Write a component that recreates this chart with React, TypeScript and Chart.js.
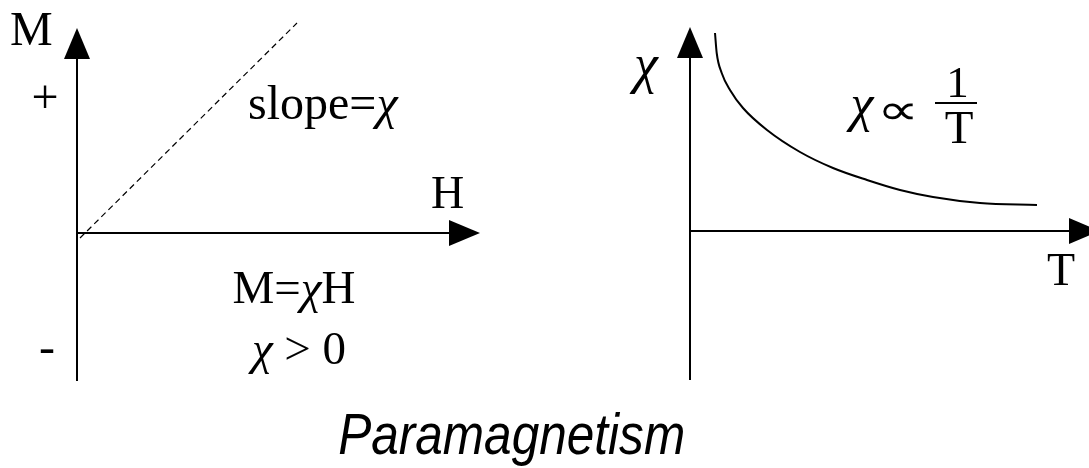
import React, { useEffect, useRef } from "react";
import { Chart, registerables } from "chart.js";

Chart.register(...registerables);

// ---- Data (left panel: M versus H) ----
const fieldH = [0.03, 2.2];
const magnetM = [-0.05, 2.1];

// ---- Data (right panel: chi versus T) ----
const tempT = [0.25, 0.267, 0.317, 0.4, 0.53, 0.77, 1.1, 1.43, 1.77, 2.1, 2.43, 2.9, 3.47];
const chiValues = [1.98, 1.78, 1.58, 1.41, 1.23, 1.01, 0.79, 0.63, 0.51, 0.41, 0.34, 0.28, 0.26];

// ---- Axis extents (data units) ----
const leftAxes = { xTo: 4.03, yFrom: -1.48, yTo: 2.05 };
const rightAxes = { xTo: 4.1, yFrom: -1.49, yTo: 2.04 };

const SERIF = '"Liberation Serif", "Times New Roman", serif';
const TITLE = "Paramagnetism";
const CHI = "\u03C7";

type Run = { t: string; it?: boolean };
type Label = { runs: Run[]; x: number; y: number; size: number; align: "left" | "center"; sx?: number };

const leftLabels: Label[] = [
  { runs: [{ t: "M" }], x: -0.67, y: 1.88, size: 48, align: "left" },
  { runs: [{ t: "+" }], x: -0.32, y: 1.2, size: 48, align: "center" },
  { runs: [{ t: "-" }], x: -0.3, y: -1.3, size: 48, align: "center" },
  { runs: [{ t: "slope=" }, { t: CHI, it: true }], x: 1.71, y: 1.14, size: 48, align: "left" },
  { runs: [{ t: "H" }], x: 3.54, y: 0.25, size: 46, align: "left" },
  { runs: [{ t: "M=" }, { t: CHI, it: true }, { t: "H" }], x: 2.17, y: -0.7, size: 47, align: "center" },
  { runs: [{ t: CHI, it: true }, { t: " > 0" }], x: 2.22, y: -1.31, size: 47, align: "center" },
];

const rightLabels: Label[] = [
  { runs: [{ t: CHI, it: true }], x: -0.44, y: 1.49, size: 54, align: "center" },
  { runs: [{ t: CHI, it: true }], x: 1.72, y: 1.1, size: 52, align: "center" },
  { runs: [{ t: "\u221D" }], x: 2.08, y: 1.07, size: 42, align: "center", sx: 1.4 },
  { runs: [{ t: "1" }], x: 2.675, y: 1.34, size: 45, align: "center" },
  { runs: [{ t: "T" }], x: 2.69, y: 0.88, size: 47, align: "center" },
  { runs: [{ t: "T" }], x: 3.71, y: -0.54, size: 46, align: "center" },
];

const rightBars = [{ x1: 2.45, x2: 2.87, y: 1.28 }];

const ARROW_LEN = 31;
const ARROW_HALF = 13;

function fontFor(size: number, it?: boolean) {
  return `${it ? "italic " : ""}${size}px ${SERIF}`;
}

function makeSketchPlugin(
  axes: { xTo: number; yFrom: number; yTo: number },
  labels: Label[],
  bars: { x1: number; x2: number; y: number }[],
  drawTitle: boolean
) {
  return {
    id: "sketch",
    afterDatasetsDraw(chart: any) {
      const ctx: CanvasRenderingContext2D = chart.ctx;
      const xs = chart.scales.x;
      const ys = chart.scales.y;
      ctx.save();
      ctx.strokeStyle = "#000";
      ctx.fillStyle = "#000";
      ctx.lineWidth = 2;
      const x0 = xs.getPixelForValue(0);
      const y0 = ys.getPixelForValue(0);
      const yb = ys.getPixelForValue(axes.yFrom);
      const yt = ys.getPixelForValue(axes.yTo);
      const xr = xs.getPixelForValue(axes.xTo);
      // vertical axis
      ctx.beginPath();
      ctx.moveTo(x0, yb);
      ctx.lineTo(x0, yt + ARROW_LEN - 2);
      ctx.stroke();
      ctx.beginPath();
      ctx.moveTo(x0, yt);
      ctx.lineTo(x0 - ARROW_HALF, yt + ARROW_LEN);
      ctx.lineTo(x0 + ARROW_HALF, yt + ARROW_LEN);
      ctx.closePath();
      ctx.fill();
      // horizontal axis
      ctx.beginPath();
      ctx.moveTo(x0, y0);
      ctx.lineTo(xr - ARROW_LEN + 2, y0);
      ctx.stroke();
      ctx.beginPath();
      ctx.moveTo(xr, y0);
      ctx.lineTo(xr - ARROW_LEN, y0 - ARROW_HALF);
      ctx.lineTo(xr - ARROW_LEN, y0 + ARROW_HALF);
      ctx.closePath();
      ctx.fill();
      // fraction bars
      for (const b of bars) {
        ctx.beginPath();
        ctx.moveTo(xs.getPixelForValue(b.x1), ys.getPixelForValue(b.y));
        ctx.lineTo(xs.getPixelForValue(b.x2), ys.getPixelForValue(b.y));
        ctx.stroke();
      }
      // labels
      ctx.textBaseline = "alphabetic";
      ctx.textAlign = "left";
      for (const l of labels) {
        const sx = l.sx ?? 1;
        let total = 0;
        const widths = l.runs.map((r) => {
          ctx.font = fontFor(l.size, r.it);
          const w = ctx.measureText(r.t).width * sx;
          total += w;
          return w;
        });
        const px = xs.getPixelForValue(l.x);
        const py = ys.getPixelForValue(l.y);
        let cx = l.align === "center" ? px - total / 2 : px;
        l.runs.forEach((r, i) => {
          ctx.font = fontFor(l.size, r.it);
          ctx.save();
          ctx.translate(cx, py);
          ctx.scale(sx, 1);
          ctx.fillText(r.t, 0, 0);
          ctx.restore();
          cx += widths[i];
        });
      }
      if (drawTitle) {
        ctx.font = 'italic 57px "Liberation Sans Narrow", "Liberation Sans", Arial, sans-serif';
        ctx.textAlign = "left";
        const m = ctx.measureText(TITLE);
        const inkLeft = -m.actualBoundingBoxLeft;
        const inkW = m.actualBoundingBoxLeft + m.actualBoundingBoxRight;
        const targetLeft = 339;
        const targetW = 344;
        const sxT = targetW / inkW;
        ctx.translate(targetLeft, 454);
        ctx.scale(sxT, 1);
        ctx.fillText(TITLE, -inkLeft, 0);
      }
      ctx.restore();
    },
  };
}

export default function App() {
  const leftRef = useRef<HTMLCanvasElement>(null);
  const rightRef = useRef<HTMLCanvasElement>(null);

  useEffect(() => {
    const leftChart = new Chart(leftRef.current as HTMLCanvasElement, {
      type: "line",
      data: {
        datasets: [
          {
            data: fieldH.map((h, i) => ({ x: h, y: magnetM[i] })),
            borderColor: "#000",
            borderWidth: 1.2,
            borderDash: [6, 4],
            pointRadius: 0,
            fill: false,
          },
        ],
      },
      options: {
        animation: false,
        responsive: false,
        maintainAspectRatio: false,
        events: [],
        layout: { padding: { left: 77, right: 1089 - 482, top: 19, bottom: 468 - 377 } },
        scales: {
          x: { type: "linear", display: false, min: 0, max: 4.05 },
          y: { type: "linear", display: false, min: -1.44, max: 2.14 },
        },
        plugins: { legend: { display: false }, tooltip: { enabled: false } },
      },
      plugins: [makeSketchPlugin(leftAxes, leftLabels, [], true)],
    } as any);

    const rightChart = new Chart(rightRef.current as HTMLCanvasElement, {
      type: "line",
      data: {
        datasets: [
          {
            data: tempT.map((t, i) => ({ x: t, y: chiValues[i] })),
            borderColor: "#000",
            borderWidth: 2,
            cubicInterpolationMode: "monotone",
            pointRadius: 0,
            fill: false,
          },
        ],
      },
      options: {
        animation: false,
        responsive: false,
        maintainAspectRatio: false,
        events: [],
        layout: { padding: { left: 690, right: 0, top: 27, bottom: 468 - 381 } },
        scales: {
          x: { type: "linear", display: false, min: 0, max: 3.99 },
          y: { type: "linear", display: false, min: -1.5, max: 2.04 },
        },
        plugins: { legend: { display: false }, tooltip: { enabled: false } },
      },
      plugins: [makeSketchPlugin(rightAxes, rightLabels, rightBars, false)],
    } as any);

    return () => {
      leftChart.destroy();
      rightChart.destroy();
    };
  }, []);

  const canvasStyle: React.CSSProperties = { position: "absolute", left: 0, top: 0 };
  return (
    <div
      style={{
        position: "fixed",
        left: 0,
        top: 0,
        width: 1089,
        height: 468,
        background: "#fff",
        overflow: "hidden",
      }}
    >
      <canvas ref={leftRef} width={1089} height={468} style={canvasStyle} />
      <canvas ref={rightRef} width={1089} height={468} style={canvasStyle} />
    </div>
  );
}
